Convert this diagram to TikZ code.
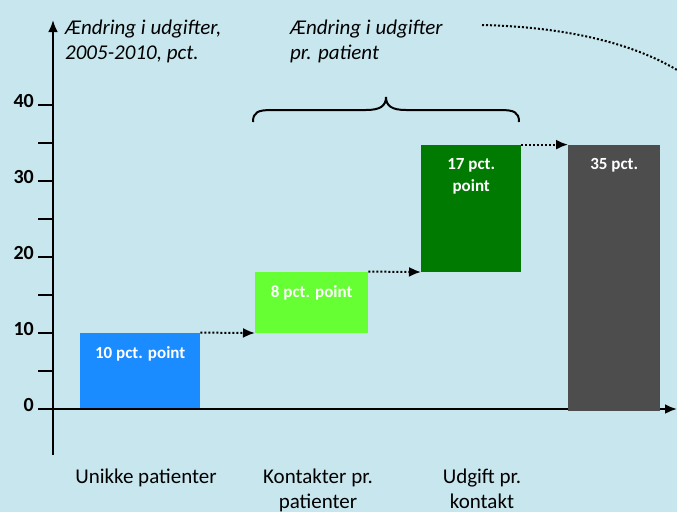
\documentclass[tikz,border=0pt]{standalone}
\usepackage{fontspec}
\setmainfont{Carlito}
\usetikzlibrary{arrows.meta}
\definecolor{bgc}{HTML}{C8E6EE}
\definecolor{cblue}{HTML}{1A8CFF}
\definecolor{clgreen}{HTML}{66FF33}
\definecolor{cdgreen}{HTML}{007A00}
\definecolor{cgray}{HTML}{4D4D4D}
\begin{document}
\begin{tikzpicture}[x=1pt,y=-1pt,
  axisline/.style={line width=2.4pt},
  tickline/.style={line width=2.2pt},
  bar/.style={draw=none, minimum width=#1, inner sep=0pt, anchor=south west},
  barlabel/.style={text=white, font=\bfseries\fontsize{17}{22}\selectfont, align=center, anchor=base, inner sep=0pt},
  ticklab/.style={font=\bfseries\fontsize{20}{22}\selectfont, anchor=mid east, inner sep=0pt},
  catlab/.style={font=\fontsize{21}{25}\selectfont, align=center, anchor=base, inner sep=0pt},
  titlelab/.style={font=\itshape\fontsize{21}{25}\selectfont, align=left, anchor=base west, inner sep=0pt},
  dotarrow/.style={line width=2pt, dotted, -{Latex[length=12pt,width=10pt,line cap=butt]}}
]
\fill[bgc] (0,0) rectangle (677,512);
\useasboundingbox (0,0) rectangle (677,512);
\clip (0,0) rectangle (677,512);

% axes
\coordinate (ybot) at (53,455);
\coordinate (ytop) at (53,20);
\coordinate (xleft) at (38,409);
\coordinate (xright) at (677,409);
\draw[axisline, -{Latex[length=12pt,width=10pt]}] (ybot) -- (ytop);

% ticks
\foreach \v in {5,10,...,40} {
  \draw[tickline] (38,{409-7.6*\v}) -- (53,{409-7.6*\v});
}
\foreach \v in {0,10,20,30,40} {
  \node[ticklab] (t\v) at (34,{409-7.6*\v}) {\v};
}

% bars
\node[bar=120pt, fill=cblue, minimum height=76pt] (b1) at (80,409) {};
\node[bar=113pt, fill=clgreen, minimum height=61pt] (b2) at (255,333) {};
\node[bar=100pt, fill=cdgreen, minimum height=127pt] (b3) at (421,272) {};
\node[bar=92pt, fill=cgray, minimum height=264pt] (b4) at (568,409) {};
\draw[axisline, -{Latex[length=12pt,width=10pt]}] (xleft) -- (xright);
\fill[cgray] (568,408) rectangle (660,410.5);

% bar labels
\node[barlabel] (l1) at ([yshift=-26pt]b1.north) {10 pct. point};
\node[barlabel] (l2) at ([yshift=-26pt]b2.north) {8 pct. point};
\node[barlabel] (l3) at ([yshift=-47pt]b3.north) {17 pct.\\point};
\node[barlabel] (l4) at ([yshift=-25pt]b4.north) {35 pct.};

% dotted arrows
\draw[dotarrow] (b1.north east) -- (b2.south west);
\draw[dotarrow] (b2.north east) -- (b3.south west);
\draw[dotarrow] (b3.north east) -- (b4.north west);

% category labels
\node[catlab] (c1) at (146,483) {Unikke patienter};
\node[catlab] (c2) at (318,508) {Kontakter pr.\\patienter};
\node[catlab] (c3) at (482,508) {Udgift pr.\\kontakt};

% titles
\node[titlelab] (ti1) at (65,59) {Ændring i udgifter,\\2005-2010, pct.};
\node[titlelab] (ti2) at (290,59) {Ændring i udgifter\\pr. patient};

% brace
\draw[line width=2pt] (253,122) .. controls (253,112) and (258,110) .. (272,110)
  -- (366,110) .. controls (380,110) and (386,106) .. (386,97)
  .. controls (386,106) and (392,110) .. (406,110)
  -- (500,110) .. controls (514,110) and (519,112) .. (519,122);

% dotted curve
\coordinate (cs) at (482,25);
\coordinate (ce) at (685,75);
\draw[line width=2pt, dotted] (cs) .. controls (570,27) and (640,45) .. (ce);
\end{tikzpicture}
\end{document}
